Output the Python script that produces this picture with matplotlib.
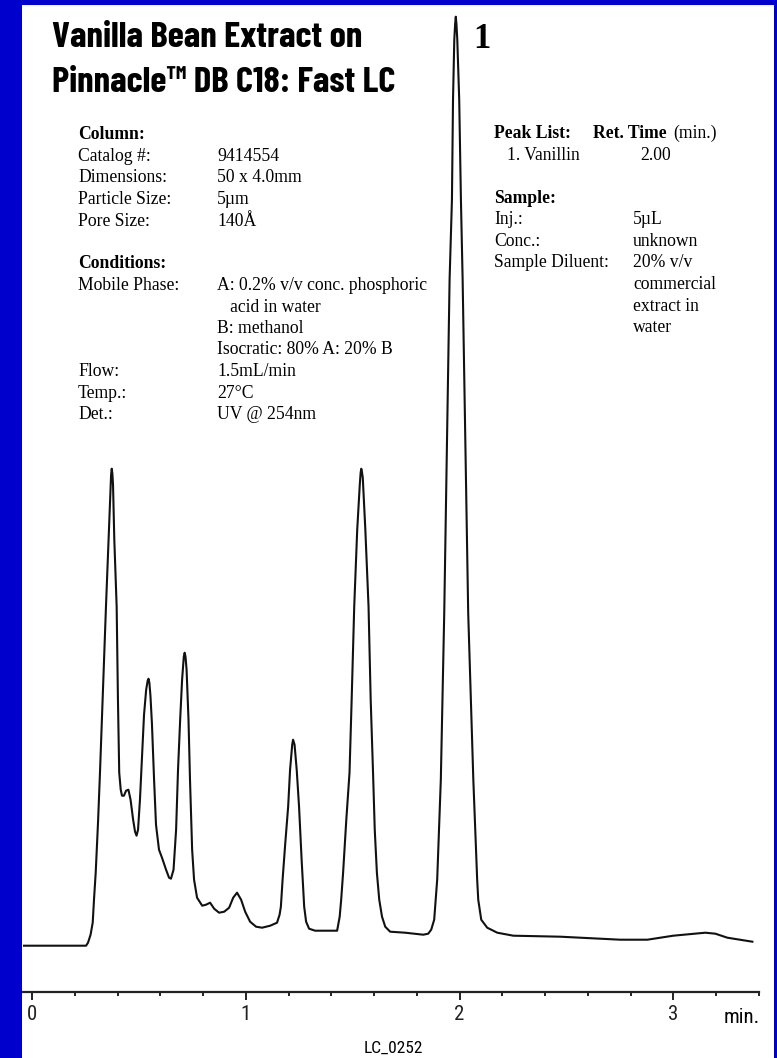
import numpy as np
import matplotlib
matplotlib.use('Agg')
import matplotlib.pyplot as plt
from matplotlib.patches import Rectangle
from matplotlib.ticker import MultipleLocator

# chromatogram: time (min), detector response (arb.)
time_min = [-0.040, 0.253, 0.262, 0.274, 0.284, 0.290, 0.298, 0.309, 0.318, 0.332,
            0.346, 0.358, 0.367, 0.370, 0.373, 0.376, 0.379, 0.385, 0.396, 0.402,
            0.408, 0.415, 0.421, 0.430, 0.440, 0.451, 0.461, 0.473, 0.482, 0.489,
            0.496, 0.505, 0.515, 0.524, 0.534, 0.541, 0.545, 0.549, 0.554, 0.561,
            0.571, 0.580, 0.594, 0.608, 0.627, 0.641, 0.650, 0.662, 0.674, 0.683,
            0.693, 0.702, 0.710, 0.714, 0.718, 0.723, 0.732, 0.739, 0.749, 0.758,
            0.772, 0.796, 0.814, 0.833, 0.852, 0.875, 0.899, 0.922, 0.941, 0.959,
            0.978, 0.997, 1.020, 1.048, 1.076, 1.114, 1.146, 1.158, 1.164, 1.172,
            1.184, 1.198, 1.207, 1.217, 1.221, 1.228, 1.238, 1.249, 1.261, 1.273,
            1.282, 1.296, 1.324, 1.427, 1.439, 1.446, 1.455, 1.470, 1.485, 1.495,
            1.507, 1.521, 1.533, 1.537, 1.540, 1.543, 1.547, 1.559, 1.574, 1.584,
            1.595, 1.603, 1.613, 1.624, 1.637, 1.652, 1.675, 1.745, 1.830, 1.853,
            1.867, 1.881, 1.895, 1.912, 1.928, 1.953, 1.964, 1.969, 1.975, 1.979,
            1.982, 1.985, 1.989, 1.998, 2.006, 2.014, 2.040, 2.064, 2.082, 2.087,
            2.101, 2.129, 2.176, 2.251, 2.471, 2.751, 2.878, 2.999, 3.149, 3.196,
            3.252, 3.369]
response = [0, 0, 3, 11, 23, 46, 73, 124, 173, 256,
            339, 406, 456, 471, 477, 472, 461, 406, 339, 246,
            173, 156, 150, 150, 155, 156, 146, 126, 114, 110,
            116, 146, 191, 231, 256, 265, 267, 263, 250, 222,
            166, 121, 96, 88, 76, 68, 67, 76, 116, 176,
            226, 266, 289, 293, 289, 276, 226, 166, 96, 66,
            48, 40, 41, 43, 37, 33, 34, 38, 48, 53,
            46, 34, 24, 19, 18, 20, 23, 31, 39, 66,
            101, 139, 176, 201, 206, 201, 176, 139, 86, 39,
            24, 17, 15, 15, 29, 46, 73, 126, 173, 246,
            339, 416, 461, 473, 477, 474, 468, 416, 339, 246,
            173, 116, 73, 46, 29, 19, 14, 13, 11, 12,
            16, 26, 66, 166, 333, 666, 746, 846, 906, 922,
            929, 922, 906, 846, 746, 666, 333, 166, 66, 46,
            26, 18, 13, 10, 9, 6, 6, 10, 13, 12,
            8, 4]

major_ticks = [0, 1, 2, 3]
tick_labels = ['0', '1', '2', '3']

column_rows = [('Catalog #:', '9414554'),
               ('Dimensions:', '50 x 4.0mm'),
               ('Particle Size:', '5\u00b5m'),
               ('Pore Size:', '140\u00c5')]
condition_rows = [('Mobile Phase:', 'A: 0.2% v/v conc. phosphoric'),
                  ('', '   acid in water'),
                  ('', 'B: methanol'),
                  ('', 'Isocratic: 80% A: 20% B'),
                  ('Flow:', '1.5mL/min'),
                  ('Temp.:', '27\u00b0C'),
                  ('Det.:', 'UV @ 254nm')]
sample_rows = [('Inj.:', '5\u00b5L'),
               ('Conc.:', 'unknown'),
               ('Sample Diluent:', '20% v/v'),
               ('', 'commercial'),
               ('', 'extract in'),
               ('', 'water')]

W, H = 777, 1058
BLUE = '#0000cc'
narrow = ['Roboto Condensed', 'DejaVu Sans']
title_font = ['Barlow Condensed', 'Roboto Condensed', 'DejaVu Sans']
serif = ['Liberation Serif', 'DejaVu Serif']

fig = plt.figure(figsize=(W / 100, H / 100), dpi=100, facecolor=BLUE)
fig.patches.append(Rectangle((22 / W, 0), (774 - 22) / W, (H - 5) / H,
                             transform=fig.transFigure, facecolor='white',
                             edgecolor='none', zorder=-5))

def fx(px):
    return px / W

def fy(py):
    return 1 - py / H

ax = fig.add_axes([fx(23), fy(992), (759 - 23) / W, (992 - 5) / H])
ax.set_zorder(2)
ax.set_facecolor('none')
ax.plot(time_min, response, color='#111111', lw=1.5, solid_joinstyle='round')
ax.set_xlim(-0.042, 3.40)
ax.set_ylim(-46.3, 940.7)
for s in ['top', 'left', 'right']:
    ax.spines[s].set_visible(False)
ax.spines['bottom'].set_linewidth(1.6)
ax.spines['bottom'].set_color('#222222')
ax.set_yticks([])
ax.set_xticks(major_ticks)
ax.set_xticklabels(tick_labels, family=narrow, fontsize=15)
ax.xaxis.set_minor_locator(MultipleLocator(0.2))
ax.tick_params(axis='x', which='major', direction='out', length=6, width=1.4,
               pad=3, colors='#222222')
ax.tick_params(axis='x', which='minor', direction='out', length=3, width=1.4,
               colors='#222222')

# peak number
ax.text(1.982 + 0.12, 906, '1', family=serif, fontweight='bold', fontsize=25,
        ha='center', va='center')

# title
fig.text(fx(52), fy(47), 'Vanilla Bean Extract on', family=title_font,
         fontweight='bold', fontsize=26.5, va='baseline')
fig.text(fx(52), fy(92), 'Pinnacle\u2122 DB C18: Fast LC', family=title_font,
         fontweight='bold', fontsize=26.5, va='baseline')

fs = 12.7
lab_x, val_x = fx(78), fx(217)
fig.text(lab_x, fy(139), 'Column:', family=serif, fontweight='bold', fontsize=fs,
         va='baseline')
y = 161
for lab, val in column_rows:
    fig.text(lab_x, fy(y), lab, family=serif, fontsize=fs, va='baseline')
    fig.text(val_x, fy(y), val, family=serif, fontsize=fs, va='baseline')
    y += 21.5
fig.text(lab_x, fy(268), 'Conditions:', family=serif, fontweight='bold',
         fontsize=fs, va='baseline')
y = 290
for lab, val in condition_rows:
    fig.text(lab_x, fy(y), lab, family=serif, fontsize=fs, va='baseline')
    fig.text(val_x, fy(y), val, family=serif, fontsize=fs, va='baseline')
    y += 21.5

# peak list / sample block
rx, rv = fx(494), fx(633)
fig.text(rx, fy(138), 'Peak List:', family=serif, fontweight='bold', fontsize=fs,
         va='baseline')
fig.text(fx(593), fy(138), 'Ret. Time', family=serif, fontweight='bold',
         fontsize=fs, va='baseline')
fig.text(fx(673), fy(138), '(min.)', family=serif, fontsize=fs, va='baseline')
fig.text(fx(507), fy(160), '1. Vanillin', family=serif, fontsize=fs, va='baseline')
fig.text(fx(640), fy(160), '2.00', family=serif, fontsize=fs, va='baseline')
fig.text(rx, fy(203), 'Sample:', family=serif, fontweight='bold', fontsize=fs,
         va='baseline')
y = 224
for lab, val in sample_rows:
    fig.text(rx, fy(y), lab, family=serif, fontsize=fs, va='baseline')
    fig.text(rv, fy(y), val, family=serif, fontsize=fs, va='baseline')
    y += 21.7

fig.text(fx(760), fy(1023), 'min.', family=narrow, fontsize=15, ha='right',
         va='baseline')
fig.text(fx(393), fy(1053), 'LC_0252', family=narrow, fontsize=12.5,
         ha='center', va='baseline')

fig.savefig('out.png', dpi=100, facecolor=BLUE)
